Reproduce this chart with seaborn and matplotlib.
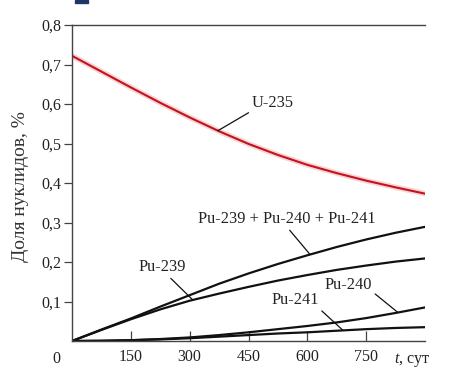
import numpy as np
import pandas as pd
import matplotlib
matplotlib.use("Agg")
import matplotlib.pyplot as plt
from matplotlib.patches import Rectangle
import seaborn as sns

# values (time in days, share in %)
t_days = [0, 75, 150, 225, 300, 375, 450, 525, 600, 675, 750, 825, 900]
u235 = [0.722, 0.682, 0.642, 0.603, 0.566, 0.531, 0.499, 0.471, 0.446,
        0.425, 0.406, 0.389, 0.373]
pu_sum = [0.0, 0.029, 0.057, 0.087, 0.116, 0.145, 0.171, 0.195, 0.217,
          0.238, 0.257, 0.274, 0.289]
pu239 = [0.0, 0.028, 0.055, 0.080, 0.102, 0.120, 0.137, 0.153, 0.167,
         0.180, 0.191, 0.201, 0.209]
pu240 = [0.0, 0.0005, 0.002, 0.005, 0.009, 0.015, 0.022, 0.030, 0.038,
         0.047, 0.058, 0.071, 0.085]
pu241 = [0.0, 0.0005, 0.002, 0.004, 0.007, 0.011, 0.015, 0.019, 0.022,
         0.026, 0.030, 0.033, 0.035]

x_ticks = [150, 300, 450, 600, 750]
y_ticks = [0.1, 0.2, 0.3, 0.4, 0.5, 0.6, 0.7, 0.8]
y_tick_labels = ["0,1", "0,2", "0,3", "0,4", "0,5", "0,6", "0,7", "0,8"]

sns.set_style("ticks")
plt.rcParams["font.family"] = ["Liberation Serif", "DejaVu Serif"]
plt.rcParams["mathtext.fontset"] = "custom"
plt.rcParams["mathtext.it"] = "Liberation Serif:italic"
plt.rcParams["mathtext.rm"] = "Liberation Serif"

TXT = "#222222"
FS = 11.5

fig = plt.figure(figsize=(4.52, 3.71), dpi=100)
ax = fig.add_axes([72 / 452, 1 - 341 / 371, 353 / 452, 316 / 371])

df = pd.DataFrame({"t": t_days, "u235": u235, "sum": pu_sum,
                   "pu239": pu239, "pu240": pu240, "pu241": pu241})

# U-235 with a soft pink halo like the scanned original
sns.lineplot(data=df, x="t", y="u235", ax=ax, color="#f3b9b9", lw=4, alpha=0.6)
sns.lineplot(data=df, x="t", y="u235", ax=ax, color="#c4121f", lw=1.5)
for col in ["sum", "pu239", "pu240", "pu241"]:
    sns.lineplot(data=df, x="t", y=col, ax=ax, color="#111111", lw=1.6)

ax.set_xlim(0, 900)
ax.set_ylim(0, 0.8)
ax.set_xticks(x_ticks)
ax.set_xticklabels([str(v) for v in x_ticks])
ax.set_yticks(y_ticks)
ax.set_yticklabels(y_tick_labels)
ax.tick_params(axis="x", direction="in", length=7, width=0.9, pad=6,
               labelsize=FS, labelcolor=TXT, color="#444444")
ax.tick_params(axis="y", direction="out", length=6, width=0.9, pad=2,
               labelsize=FS, labelcolor=TXT, color="#444444")
for side in ["left", "top", "bottom"]:
    ax.spines[side].set_color("#444444")
    ax.spines[side].set_linewidth(1.0)
ax.spines["right"].set_visible(False)

ax.set_xlabel("")
ax.set_ylabel("Доля нуклидов, %", fontsize=14, color="#333333")
ax.yaxis.set_label_coords(-0.122, 0.49)

# origin label and axis name on the x axis
ax.text(-0.045, -0.032, "0", transform=ax.transAxes, ha="center", va="top",
        fontsize=FS, color=TXT)
ax.text(0.963, -0.032, "$t$, сут", transform=ax.transAxes, ha="center",
        va="top", fontsize=FS, color=TXT)

# labels with leader lines
labels = [
    ("U-235", u235, 372, (512, 0.603), (0.0, 0.0)),
    ("Pu-239 + Pu-240 + Pu-241", pu_sum, 607, (548, 0.309), (0.5, 0.0)),
    ("Pu-239", pu239, 308, (229, 0.187), (0.62, 0.0)),
    ("Pu-240", pu240, 831, (704, 0.142), (1.0, 0.1)),
    ("Pu-241", pu241, 691, (568, 0.104), (1.0, 0.0)),
]
for text, series, t_at, pos, rel in labels:
    ax.annotate(text, xy=(t_at, np.interp(t_at, t_days, series)), xytext=pos,
                ha="center", va="center", fontsize=11.8, color=TXT,
                arrowprops=dict(arrowstyle="-", color="#111111", lw=0.9,
                                shrinkA=0, shrinkB=0, relpos=rel))

# cropped dark mark at the top-left corner of the scan
fig.patches.append(Rectangle((75 / 452, 1 - 3 / 371), 13 / 452, 3 / 371,
                             transform=fig.transFigure, color="#1f3565"))

fig.savefig("out.png", dpi=100)
